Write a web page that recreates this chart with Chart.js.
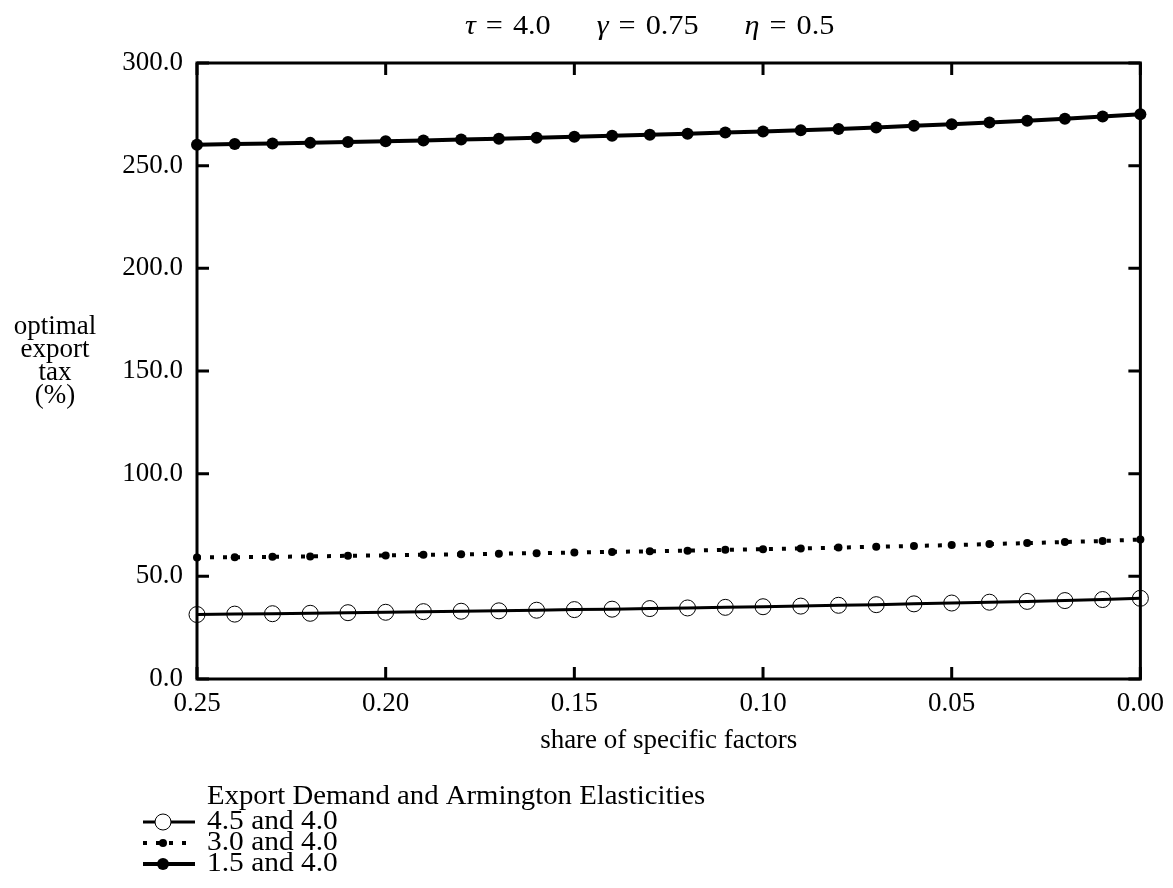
<!DOCTYPE html>
<html>
<head>
<meta charset="utf-8">
<script src="https://cdn.jsdelivr.net/npm/chart.js@4.4.0/dist/chart.umd.min.js"></script>
<style>
  html, body { margin: 0; padding: 0; background: #fff; }
  #wrap { width: 1173px; height: 888px; }
</style>
</head>
<body>
<div id="wrap"><canvas id="chart"></canvas></div>
<script>
// share of specific factors (x), plotted from 0.25 down to 0.00
const shares = [0.25, 0.24, 0.23, 0.22, 0.21, 0.20, 0.19, 0.18, 0.17, 0.16, 0.15, 0.14, 0.13,
                0.12, 0.11, 0.10, 0.09, 0.08, 0.07, 0.06, 0.05, 0.04, 0.03, 0.02, 0.01, 0.00];

// optimal export tax (%) for each elasticity pair
const tax45 = [31.4, 31.6, 31.8, 32.0, 32.3, 32.5, 32.8, 33.0, 33.2, 33.5, 33.8, 34.0, 34.3,
               34.6, 34.9, 35.2, 35.5, 35.9, 36.2, 36.6, 37.0, 37.4, 37.8, 38.2, 38.7, 39.3];
const tax30 = [59.2, 59.3, 59.5, 59.7, 60.0, 60.2, 60.5, 60.7, 61.0, 61.3, 61.6, 61.9, 62.2,
               62.5, 62.9, 63.2, 63.6, 64.0, 64.4, 64.8, 65.2, 65.7, 66.2, 66.7, 67.2, 67.9];
const tax15 = [260.2, 260.5, 260.8, 261.1, 261.5, 261.9, 262.3, 262.7, 263.1, 263.6, 264.1, 264.6, 265.1,
               265.6, 266.1, 266.6, 267.2, 267.9, 268.6, 269.4, 270.2, 271.0, 271.9, 272.9, 273.9, 275.0];

const seriesLabels = ['4.5 and 4.0', '3.0 and 4.0', '1.5 and 4.0'];
const legendTitle = 'Export Demand and Armington Elasticities';

const xTicks = [0.25, 0.20, 0.15, 0.10, 0.05, 0.00];
const xTickLabels = ['0.25', '0.20', '0.15', '0.10', '0.05', '0.00'];
const yTicks = [0, 50, 100, 150, 200, 250, 300];
const yTickLabels = ['0.0', '50.0', '100.0', '150.0', '200.0', '250.0', '300.0'];

const FONT = '"Liberation Serif", "DejaVu Serif", serif';
const FS = 27;

const toPoints = arr => shares.map((s, i) => ({ x: s, y: arr[i] }));

// text stretched horizontally, left aligned
function wideText(ctx, str, x, y, sx) {
  ctx.save();
  ctx.translate(x, y);
  ctx.scale(sx, 1);
  ctx.fillText(str, 0, 0);
  ctx.restore();
}

// box with inward ticks on all four sides, like the original
const framePlugin = {
  id: 'frame',
  beforeDatasetsDraw(chart) {
    const { ctx, chartArea: a, scales: { x, y } } = chart;
    ctx.save();
    ctx.strokeStyle = '#000';
    ctx.lineWidth = 3;
    ctx.strokeRect(a.left, a.top, a.right - a.left, a.bottom - a.top);
    ctx.beginPath();
    yTicks.forEach(v => {
      const py = y.getPixelForValue(v);
      ctx.moveTo(a.left, py); ctx.lineTo(a.left + 12, py);
      ctx.moveTo(a.right, py); ctx.lineTo(a.right - 12, py);
    });
    xTicks.forEach(v => {
      const px = x.getPixelForValue(v);
      ctx.moveTo(px, a.bottom); ctx.lineTo(px, a.bottom - 12);
      ctx.moveTo(px, a.top); ctx.lineTo(px, a.top + 12);
    });
    ctx.stroke();
    ctx.restore();
  },
  afterDraw(chart) {
    const { ctx, chartArea: a } = chart;
    ctx.save();
    ctx.fillStyle = '#000';
    ctx.textBaseline = 'middle';
    ctx.textAlign = 'left';

    // title: three groups "sym = value", greek letters in italics, math spacing round "="
    const groups = [['τ', '4.0'], ['γ', '0.75'], ['η', '0.5']];
    const italic = 'italic ' + FS + 'px ' + FONT;
    const roman = FS + 'px ' + FONT;
    const sp = 10;
    const sx = 1.12;
    const measure = (f, s) => { ctx.font = f; return ctx.measureText(s).width * sx; };
    const widths = groups.map(g => measure(italic, g[0]) + sp + measure(roman, '=') + sp + measure(roman, g[1]));
    const gap = 46;
    let tx = 465;
    groups.forEach((g, i) => {
      let cx = tx;
      ctx.font = italic; wideText(ctx, g[0], cx, 27, sx); cx += measure(italic, g[0]) + sp;
      ctx.font = roman; wideText(ctx, '=', cx, 27, sx); cx += measure(roman, '=') + sp;
      ctx.font = roman; wideText(ctx, g[1], cx, 27, sx);
      tx += widths[i] + gap;
    });

    // y axis label
    ctx.font = roman;
    ctx.textAlign = 'center';
    ['optimal', 'export', 'tax', '(%)'].forEach((t, i) => ctx.fillText(t, 55, 327 + i * 23));

    // x axis label
    ctx.fillText('share of specific factors', (a.left + a.right) / 2, 741);

    // legend
    ctx.textAlign = 'left';
    wideText(ctx, legendTitle, 207, 797, 1.065);
    const rowsY = [822, 843, 864];
    rowsY.forEach((ry, i) => {
      wideText(ctx, seriesLabels[i], 207, ry, 1.09);
      ctx.strokeStyle = '#000';
      ctx.beginPath();
      if (i === 1) { ctx.setLineDash([4, 9]); ctx.lineWidth = 4; }
      else { ctx.setLineDash([]); ctx.lineWidth = i === 0 ? 3 : 4; }
      ctx.moveTo(143, ry); ctx.lineTo(195, ry);
      ctx.stroke();
      ctx.setLineDash([]);
      ctx.beginPath();
      if (i === 0) {
        ctx.fillStyle = '#fff';
        ctx.arc(163, ry, 8, 0, Math.PI * 2);
        ctx.fill();
        ctx.lineWidth = 1;
        ctx.stroke();
        ctx.fillStyle = '#000';
      } else {
        ctx.arc(163, ry, i === 1 ? 4 : 6, 0, Math.PI * 2);
        ctx.fill();
      }
    });
    ctx.restore();
  }
};

new Chart(document.getElementById('chart'), {
  type: 'scatter',
  plugins: [framePlugin],
  data: {
    datasets: [
      {
        label: seriesLabels[0],
        data: toPoints(tax45),
        showLine: true,
        borderColor: '#000',
        borderWidth: 3,
        pointRadius: 8,
        pointBorderWidth: 1,
        pointBorderColor: '#000',
        pointBackgroundColor: 'rgba(0,0,0,0)',
        clip: false
      },
      {
        label: seriesLabels[1],
        data: toPoints(tax30),
        showLine: true,
        borderColor: '#000',
        borderWidth: 4,
        borderDash: [4, 9],
        pointRadius: 4,
        pointBorderWidth: 0,
        pointBackgroundColor: '#000',
        clip: false
      },
      {
        label: seriesLabels[2],
        data: toPoints(tax15),
        showLine: true,
        borderColor: '#000',
        borderWidth: 4,
        pointRadius: 6,
        pointBorderWidth: 0,
        pointBackgroundColor: '#000',
        clip: false
      }
    ]
  },
  options: {
    responsive: true,
    maintainAspectRatio: false,
    animation: false,
    layout: { padding: { top: 63, right: 30, left: 0, bottom: 0 } },
    plugins: {
      legend: { display: false },
      tooltip: { enabled: false }
    },
    scales: {
      x: {
        type: 'linear',
        reverse: true,
        min: 0,
        max: 0.25,
        grid: { display: false, drawTicks: false },
        border: { display: false },
        afterBuildTicks: s => { s.ticks = xTicks.map(v => ({ value: v })); },
        afterFit: s => { s.height = 209; },
        ticks: {
          padding: 9,
          maxRotation: 0,
          color: '#000',
          font: { family: FONT, size: FS },
          callback: v => xTickLabels[xTicks.findIndex(t => Math.abs(t - v) < 1e-9)]
        }
      },
      y: {
        min: 0,
        max: 300,
        grid: { display: false, drawTicks: false },
        border: { display: false },
        afterBuildTicks: s => { s.ticks = yTicks.map(v => ({ value: v })); },
        afterFit: s => { s.width = 197; },
        ticks: {
          padding: 14,
          color: '#000',
          font: { family: FONT, size: FS },
          callback: v => yTickLabels[yTicks.indexOf(v)]
        }
      }
    }
  }
});
</script>
</body>
</html>
